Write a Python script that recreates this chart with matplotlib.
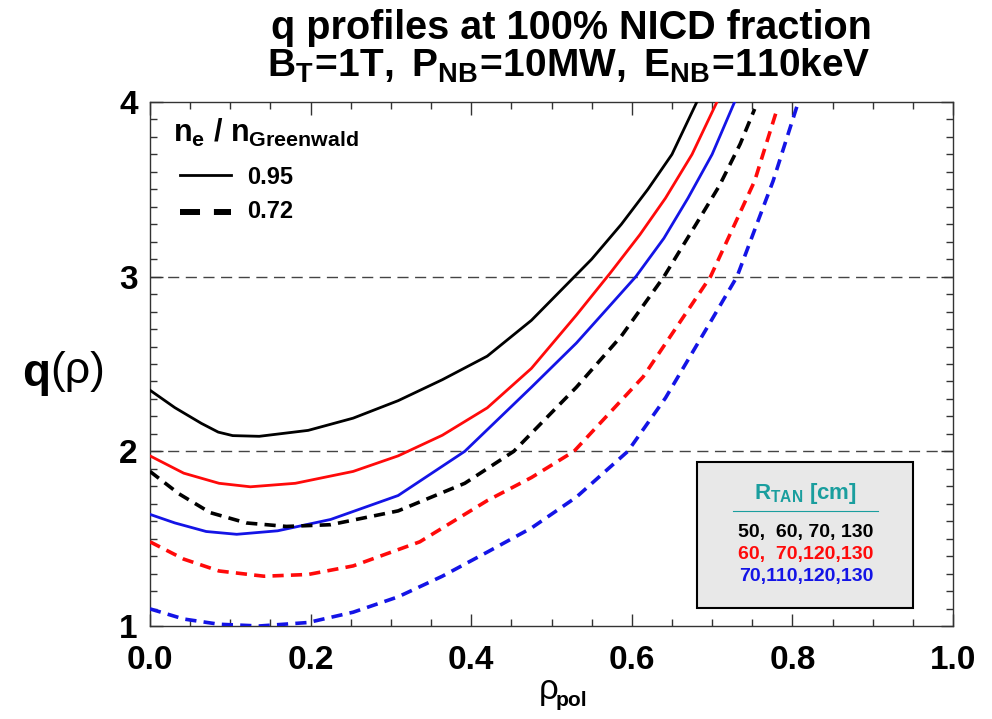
import matplotlib
matplotlib.use("Agg")
import matplotlib.pyplot as plt
from matplotlib.ticker import MultipleLocator

plt.rcParams['font.family'] = ['Liberation Sans', 'DejaVu Sans']
plt.rcParams['mathtext.fontset'] = 'custom'
plt.rcParams['mathtext.rm'] = 'Liberation Sans'
plt.rcParams['mathtext.bf'] = 'Liberation Sans:bold'
plt.rcParams['mathtext.it'] = 'Liberation Sans:italic'

# ---- data ----
black_solid_x = [0.0, 0.031, 0.064, 0.085, 0.103, 0.136, 0.197, 0.253, 0.309, 0.364, 0.42, 0.475, 0.52, 0.55, 0.587, 0.62, 0.65, 0.681]
black_solid_q = [2.35, 2.25, 2.16, 2.11, 2.09, 2.086, 2.12, 2.19, 2.29, 2.41, 2.545, 2.75, 2.96, 3.1, 3.3, 3.5, 3.7, 4.0]

red_solid_x = [0.0, 0.042, 0.086, 0.125, 0.181, 0.253, 0.309, 0.364, 0.42, 0.475, 0.531, 0.573, 0.61, 0.642, 0.675, 0.706]
red_solid_q = [1.974, 1.875, 1.817, 1.797, 1.817, 1.885, 1.974, 2.092, 2.249, 2.475, 2.78, 3.02, 3.24, 3.45, 3.7, 4.0]

blue_solid_x = [0.0, 0.031, 0.07, 0.108, 0.159, 0.225, 0.309, 0.392, 0.475, 0.531, 0.57, 0.605, 0.64, 0.67, 0.70, 0.728]
blue_solid_q = [1.639, 1.59, 1.541, 1.525, 1.545, 1.61, 1.747, 2.0, 2.367, 2.62, 2.82, 3.0, 3.22, 3.45, 3.7, 4.0]

black_dash_x = [0.0, 0.036, 0.075, 0.12, 0.17, 0.225, 0.309, 0.392, 0.453, 0.531, 0.587, 0.64, 0.68, 0.709, 0.735, 0.753]
black_dash_q = [1.885, 1.757, 1.649, 1.59, 1.57, 1.58, 1.659, 1.817, 2.0, 2.367, 2.66, 3.0, 3.3, 3.52, 3.76, 3.96]

red_dash_x = [0.0, 0.042, 0.086, 0.142, 0.197, 0.253, 0.336, 0.42, 0.475, 0.528, 0.614, 0.698, 0.753, 0.781]
red_dash_q = [1.482, 1.383, 1.315, 1.285, 1.295, 1.344, 1.482, 1.718, 1.85, 2.0, 2.426, 3.0, 3.548, 3.96]

blue_dash_x = [0.0, 0.042, 0.086, 0.136, 0.197, 0.253, 0.309, 0.364, 0.42, 0.475, 0.531, 0.595, 0.642, 0.698, 0.731, 0.776, 0.806]
blue_dash_q = [1.098, 1.04, 1.01, 1.0, 1.02, 1.079, 1.167, 1.285, 1.423, 1.561, 1.738, 2.0, 2.306, 2.741, 3.0, 3.548, 3.98]

ref_levels = [2, 3]
x_ticks = [0.0, 0.2, 0.4, 0.6, 0.8, 1.0]
x_ticklabels = ['0.0', '0.2', '0.4', '0.6', '0.8', '1.0']
y_ticks = [1, 2, 3, 4]
y_ticklabels = ['1', '2', '3', '4']
legend_labels = ['0.95', '0.72']
rtan_rows = ['50,  60, 70, 130', '60,  70,120,130', '70,110,120,130']

RED = '#ff0a0a'
BLUE = '#1414e6'
TEAL = '#1a9e9e'
row_colors = ['black', RED, BLUE]

W, H = 992, 719
fig = plt.figure(figsize=(W/100, H/100), dpi=100)
ax = fig.add_axes([150/W, 1-626/H, 803/W, 524/H])

def fx(px):
    return px / W

def fy(py):
    return 1 - py / H

for lv in ref_levels:
    ax.axhline(lv, color='#444444', lw=1.0, dashes=(8, 4.7), zorder=1)

lw_s = 2.0
lw_d = 2.6
dash = (3.1, 2.0)
ax.plot(black_solid_x, black_solid_q, color='black', lw=lw_s, zorder=3)
ax.plot(red_solid_x, red_solid_q, color=RED, lw=lw_s, zorder=3)
ax.plot(blue_solid_x, blue_solid_q, color=BLUE, lw=lw_s, zorder=3)
ax.plot(black_dash_x, black_dash_q, color='black', lw=lw_d, dashes=dash, zorder=3)
ax.plot(red_dash_x, red_dash_q, color=RED, lw=lw_d, dashes=dash, zorder=3)
ax.plot(blue_dash_x, blue_dash_q, color=BLUE, lw=lw_d, dashes=dash, zorder=3)

ax.set_xlim(0, 1)
ax.set_ylim(1, 4)
ax.set_xticks(x_ticks)
ax.set_xticklabels(x_ticklabels)
ax.set_yticks(y_ticks)
ax.set_yticklabels(y_ticklabels)
ax.xaxis.set_minor_locator(MultipleLocator(0.05))
ax.yaxis.set_minor_locator(MultipleLocator(0.1))
ax.tick_params(which='both', direction='in', top=True, right=True, color='#333333', width=1.0)
ax.tick_params(which='major', length=9)
ax.tick_params(which='minor', length=5)
ax.tick_params(axis='x', which='major', labelsize=24, pad=14)
ax.tick_params(axis='y', which='major', labelsize=24, pad=9)
for lab in ax.get_xticklabels() + ax.get_yticklabels():
    lab.set_fontweight('bold')
for sp in ax.spines.values():
    sp.set_color('#333333')
    sp.set_linewidth(1.0)

# titles
fig.text(fx(571), fy(39), 'q profiles at 100% NICD fraction', ha='center', va='baseline',
         fontsize=28.5, fontweight='bold')
fig.text(fx(569), fy(77), r'$\mathbf{B_T\!=\!1T,\ P_{NB}\!=\!10MW,\ E_{NB}\!=\!110keV}$',
         ha='center', va='baseline', fontsize=28)

# axis labels
fig.text(fx(22), fy(374), 'q', ha='left', va='center', fontsize=33, fontweight='bold')
fig.text(fx(50), fy(372), '(\u03c1)', ha='left', va='center', fontsize=32)
fig.text(fx(539), fy(690), '\u03c1', ha='left', va='center', fontsize=25)
fig.text(fx(556), fy(700), 'pol', ha='left', va='center', fontsize=15, fontweight='bold')

# density legend
fig.text(fx(173), fy(133), r'$\mathbf{n_e\ /\ n_{Greenwald}}$', ha='left', va='center', fontsize=22)
fig.lines.append(plt.Line2D([fx(180), fx(231)], [fy(175), fy(175)], transform=fig.transFigure,
                            color='black', lw=2.0))
fig.lines.append(plt.Line2D([fx(180), fx(231)], [fy(212), fy(212)], transform=fig.transFigure,
                            color='black', lw=4.3, dashes=(3.35, 2.33), solid_capstyle='butt',
                            dash_capstyle='butt'))
fig.text(fx(247), fy(177), legend_labels[0], ha='left', va='center', fontsize=17, fontweight='bold')
fig.text(fx(247), fy(212), legend_labels[1], ha='left', va='center', fontsize=17, fontweight='bold')

# R_TAN box
bx0, by0, bx1, by1 = 697, 462, 913, 608
box = plt.Rectangle((fx(bx0), fy(by1)), (bx1-bx0)/W, (by1-by0)/H, transform=fig.transFigure,
                    facecolor='#e8e8e8', edgecolor='black', lw=1.5, zorder=5)
fig.patches.append(box)
fig.text(fx(805), fy(493), r'$\mathbf{R_{TAN}\ [cm]}$', color=TEAL, ha='center', va='center',
         fontsize=16, zorder=6)
fig.lines.append(plt.Line2D([fx(733), fx(878)], [fy(511), fy(511)], transform=fig.transFigure,
                            color=TEAL, lw=0.8, zorder=6))
row_y = [532, 554, 577]
for txt, col, yy in zip(rtan_rows, row_colors, row_y):
    fig.text(fx(806), fy(yy), txt, color=col, ha='center', va='center', fontsize=14,
             fontweight='bold', zorder=6)

fig.savefig('out.png', dpi=100)
